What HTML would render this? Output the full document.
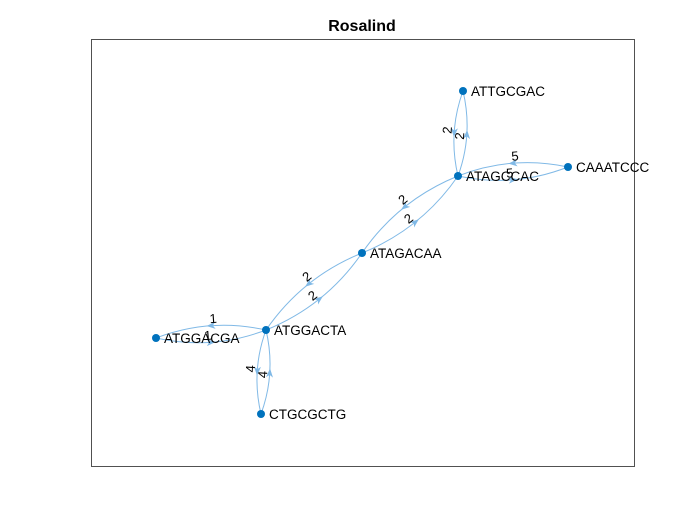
<!DOCTYPE html>
<html><head><meta charset="utf-8"><style>
body{margin:0;background:#fff;}
svg{display:block;font-family:"Liberation Sans",Arial,sans-serif;}
</style></head><body>
<svg id="chart" width="700" height="525">
<rect x="0" y="0" width="700" height="525" fill="#fff"/>
<rect x="91.5" y="39.5" width="543" height="427" fill="#fff" stroke="#262626" stroke-width="0.8"/>
<text x="362" y="31" text-anchor="middle" font-size="16" font-weight="bold" fill="#000">Rosalind</text>
<g id="edges"></g><g id="nodes"></g>
</svg>
<script>
const nodeNames=["ATTGCGAC","ATAGCCAC","CAAATCCC","ATAGACAA","ATGGACTA","ATGGACGA","CTGCGCTG"];
const nodeX=[463,458,568,362,266,156,261];
const nodeY=[91,176,167,253,330,338,414];
const edgeFrom=[0,1,2,1,1,3,3,4,4,5,4,6];
const edgeTo=[1,0,1,2,3,1,4,3,5,4,6,4];
const edgeWeights=[2,2,5,5,2,2,2,2,1,1,4,4];
const NS="http://www.w3.org/2000/svg";
const eg=document.getElementById('edges'),ng=document.getElementById('nodes');
function mk(t,a,p){const e=document.createElementNS(NS,t);for(const k in a)e.setAttribute(k,a[k]);p.appendChild(e);return e;}
for(let i=0;i<edgeFrom.length;i++){
 const x1=nodeX[edgeFrom[i]],y1=nodeY[edgeFrom[i]],x2=nodeX[edgeTo[i]],y2=nodeY[edgeTo[i]];
 const dx=x2-x1,dy=y2-y1,L=Math.hypot(dx,dy),nx=-dy/L,ny=dx/L,off=0.15*L;
 const cx=(x1+x2)/2+nx*off,cy=(y1+y2)/2+ny*off;
 const p=mk('path',{d:`M${x1},${y1} Q${cx},${cy} ${x2},${y2}`,fill:'none',stroke:'#80b9e6','stroke-width':1},eg);
 
 
 const t=0.5,bx=(1-t)*(1-t)*x1+2*t*(1-t)*cx+t*t*x2,by=(1-t)*(1-t)*y1+2*t*(1-t)*cy+t*t*y2;
 const ux=dx/L,uy=dy/L,px=-uy,py=ux;
 const a=mk('path',{d:`M${bx+ux*4},${by+uy*4} L${bx-ux*5+px*3.5},${by-uy*5+py*3.5} L${bx-ux*2.5},${by-uy*2.5} L${bx-ux*5-px*3.5},${by-uy*5-py*3.5} Z`,fill:'#80b9e6'},eg);
 
 
 let ang=Math.atan2(dy,dx)*180/Math.PI; if(ang>90)ang-=180; if(ang<-90)ang+=180;
 let fx=nx,fy=ny; if(fy>0.2||(Math.abs(fy)<=0.2&&fx>0)){fx=-fx;fy=-fy;}
 const tl=0.47,qx=(1-tl)*(1-tl)*x1+2*tl*(1-tl)*cx+tl*tl*x2,qy=(1-tl)*(1-tl)*y1+2*tl*(1-tl)*cy+tl*tl*y2;
 const lx=qx+fx*6,ly=qy+fy*6;
 const tx=mk('text',{x:lx,y:ly,'font-size':13,'text-anchor':'middle','dominant-baseline':'middle',fill:'#000',transform:`rotate(${ang} ${lx} ${ly})`},eg);
 tx.textContent=edgeWeights[i];
 
 
}
for(let i=0;i<nodeNames.length;i++){
 const c=mk('circle',{cx:nodeX[i],cy:nodeY[i],r:4,fill:'#0072bd'},ng);
 
 
 const t=mk('text',{x:nodeX[i]+8,y:nodeY[i]+5,'font-size':13.5,fill:'#000'},ng);
 t.textContent=nodeNames[i];
 
 
}
</script>
</body></html>
